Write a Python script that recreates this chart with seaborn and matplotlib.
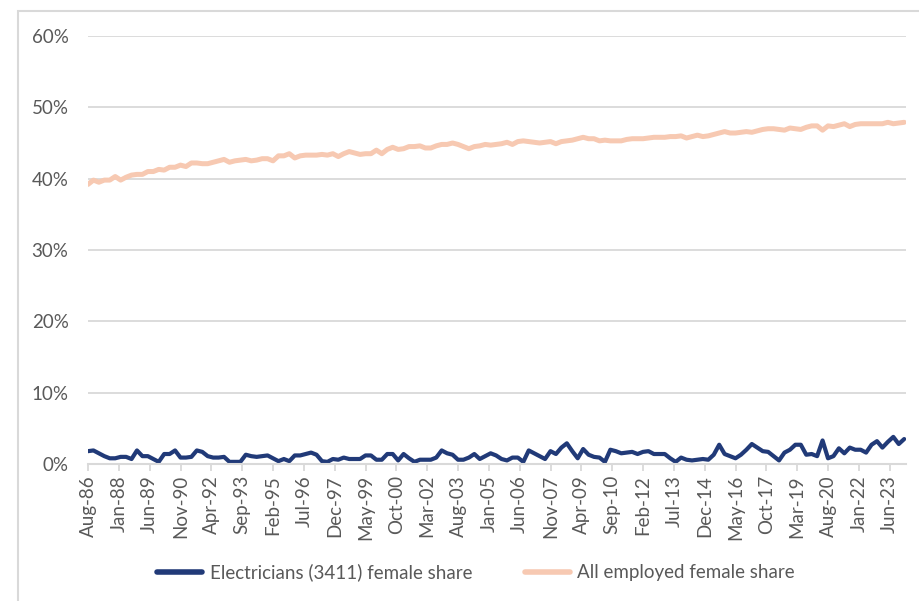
import numpy as np
import pandas as pd
import matplotlib
matplotlib.use("Agg")
import matplotlib.pyplot as plt
from matplotlib.patches import Rectangle
import seaborn as sns

# quarterly observations, Aug-86 .. Feb-24 (values in %)
electricians = [
    1.8, 1.9, 1.5, 1.1, 0.8, 0.8, 1.0, 1.0, 0.7, 1.9,
    1.1, 1.1, 0.7, 0.3, 1.4, 1.4, 1.9, 0.9, 0.9, 1.0,
    1.9, 1.7, 1.1, 0.9, 0.9, 1.0, 0.3, 0.3, 0.3, 1.3,
    1.1, 1.0, 1.1, 1.2, 0.8, 0.4, 0.7, 0.4, 1.2, 1.2,
    1.4, 1.6, 1.3, 0.4, 0.3, 0.7, 0.6, 0.9, 0.7, 0.7,
    0.7, 1.2, 1.2, 0.6, 0.6, 1.4, 1.4, 0.5, 1.4, 0.8,
    0.3, 0.6, 0.6, 0.6, 0.9, 1.9, 1.5, 1.3, 0.6, 0.6,
    0.9, 1.4, 0.7, 1.1, 1.5, 1.2, 0.7, 0.5, 0.9, 0.9,
    0.3, 1.9, 1.5, 1.1, 0.7, 1.8, 1.4, 2.3, 2.9, 1.8,
    0.8, 2.1, 1.3, 1.0, 0.9, 0.3, 2.0, 1.8, 1.5, 1.6,
    1.7, 1.4, 1.7, 1.8, 1.4, 1.4, 1.4, 0.8, 0.3, 0.9,
    0.6, 0.5, 0.6, 0.7, 0.6, 1.3, 2.7, 1.4, 1.1, 0.8,
    1.3, 2.0, 2.8, 2.3, 1.8, 1.7, 1.1, 0.5, 1.6, 2.0,
    2.7, 2.7, 1.3, 1.4, 1.1, 3.3, 0.8, 1.1, 2.2, 1.5,
    2.3, 2.0, 2.0, 1.6, 2.7, 3.2, 2.3, 3.1, 3.8, 2.8,
    3.5,
]
all_employed = [
    39.2, 39.8, 39.5, 39.8, 39.8, 40.3, 39.8, 40.2, 40.5, 40.6,
    40.6, 41.0, 41.0, 41.3, 41.2, 41.6, 41.6, 41.9, 41.7, 42.2,
    42.2, 42.1, 42.1, 42.3, 42.5, 42.7, 42.3, 42.5, 42.6, 42.7,
    42.5, 42.6, 42.8, 42.8, 42.5, 43.2, 43.2, 43.5, 42.9, 43.2,
    43.3, 43.3, 43.3, 43.4, 43.3, 43.5, 43.1, 43.5, 43.8, 43.6,
    43.4, 43.5, 43.5, 44.0, 43.5, 44.1, 44.4, 44.1, 44.2, 44.5,
    44.5, 44.6, 44.3, 44.3, 44.6, 44.8, 44.8, 45.0, 44.8, 44.5,
    44.2, 44.5, 44.6, 44.8, 44.7, 44.8, 44.9, 45.1, 44.8, 45.2,
    45.3, 45.2, 45.1, 45.0, 45.1, 45.2, 44.9, 45.2, 45.3, 45.4,
    45.6, 45.8, 45.6, 45.6, 45.3, 45.4, 45.3, 45.3, 45.3, 45.5,
    45.6, 45.6, 45.6, 45.7, 45.8, 45.8, 45.8, 45.9, 45.9, 46.0,
    45.7, 45.9, 46.1, 45.9, 46.0, 46.2, 46.4, 46.6, 46.4, 46.4,
    46.5, 46.6, 46.5, 46.7, 46.9, 47.0, 47.0, 46.9, 46.8, 47.1,
    47.0, 46.9, 47.2, 47.4, 47.4, 46.8, 47.4, 47.3, 47.5, 47.7,
    47.3, 47.6, 47.7, 47.7, 47.7, 47.7, 47.7, 47.9, 47.7, 47.8,
    47.9,
]
tick_labels = [
    "Aug-86", "Jan-88", "Jun-89", "Nov-90", "Apr-92", "Sep-93", "Feb-95",
    "Jul-96", "Dec-97", "May-99", "Oct-00", "Mar-02", "Aug-03", "Jan-05",
    "Jun-06", "Nov-07", "Apr-09", "Sep-10", "Feb-12", "Jul-13", "Dec-14",
    "May-16", "Oct-17", "Mar-19", "Aug-20", "Jan-22", "Jun-23",
]
series_names = ["Electricians (3411) female share", "All employed female share"]
colors = ["#213a78", "#f7c9b2"]

# month offsets from Aug-86
months = np.arange(len(electricians)) * 3
df = pd.concat([
    pd.DataFrame({"month": months, "share": np.array(electricians) / 100, "series": series_names[0]}),
    pd.DataFrame({"month": months, "share": np.array(all_employed) / 100, "series": series_names[1]}),
])

sns.set_theme(style="white")
plt.rcParams["font.family"] = ["Lato", "DejaVu Sans"]
text_col = "#595959"
grid_col = "#d9d9d9"

fig = plt.figure(figsize=(9.19, 6.01), dpi=100)
ax = fig.add_axes([88 / 919, 1 - 464 / 601, (906 - 88) / 919, (464 - 36) / 601])

sns.lineplot(data=df, x="month", y="share", hue="series", palette=colors,
             hue_order=series_names, ax=ax, legend=False)
for line, lw in zip(ax.lines, [3.0, 3.6]):
    line.set_linewidth(lw)
    line.set_solid_joinstyle("round")
    line.set_solid_capstyle("round")

ax.set_xlim(0, 451)
ax.set_ylim(0, 0.6)
ax.set_yticks(np.arange(0, 0.61, 0.1))
ax.set_yticklabels([f"{int(round(v * 100))}%" for v in np.arange(0, 0.61, 0.1)])
ax.set_xticks(np.arange(len(tick_labels)) * 17)
ax.set_xticklabels(tick_labels, rotation=90)
ax.set_xlabel("")
ax.set_ylabel("")

ax.yaxis.grid(True, color=grid_col, linewidth=1.3)
ax.set_axisbelow(True)
for s in ["top", "right", "left"]:
    ax.spines[s].set_visible(False)
ax.spines["bottom"].set_color(grid_col)
ax.spines["bottom"].set_linewidth(1.5)
ax.tick_params(axis="y", length=0, pad=14, labelsize=13.5, labelcolor=text_col)
ax.tick_params(axis="x", length=5, width=1.3, color=grid_col, pad=3,
               labelsize=13.5, labelcolor=text_col, bottom=True, direction="out")

handles = [plt.Line2D([], [], color=c, linewidth=4, solid_capstyle="round") for c in colors]
fig.legend(handles, series_names, loc="center", bbox_to_anchor=(0.518, 0.048), ncol=2,
           frameon=False, fontsize=13.5, labelcolor=text_col, handlelength=2.4,
           handletextpad=0.4, columnspacing=2.8)

fig.patches.append(Rectangle((18 / 919, -0.1), 1.2, 1 - 11 / 601 + 0.1, transform=fig.transFigure,
                             fill=False, edgecolor=grid_col, linewidth=1.5, clip_on=False))

fig.savefig("out.png", dpi=100)
